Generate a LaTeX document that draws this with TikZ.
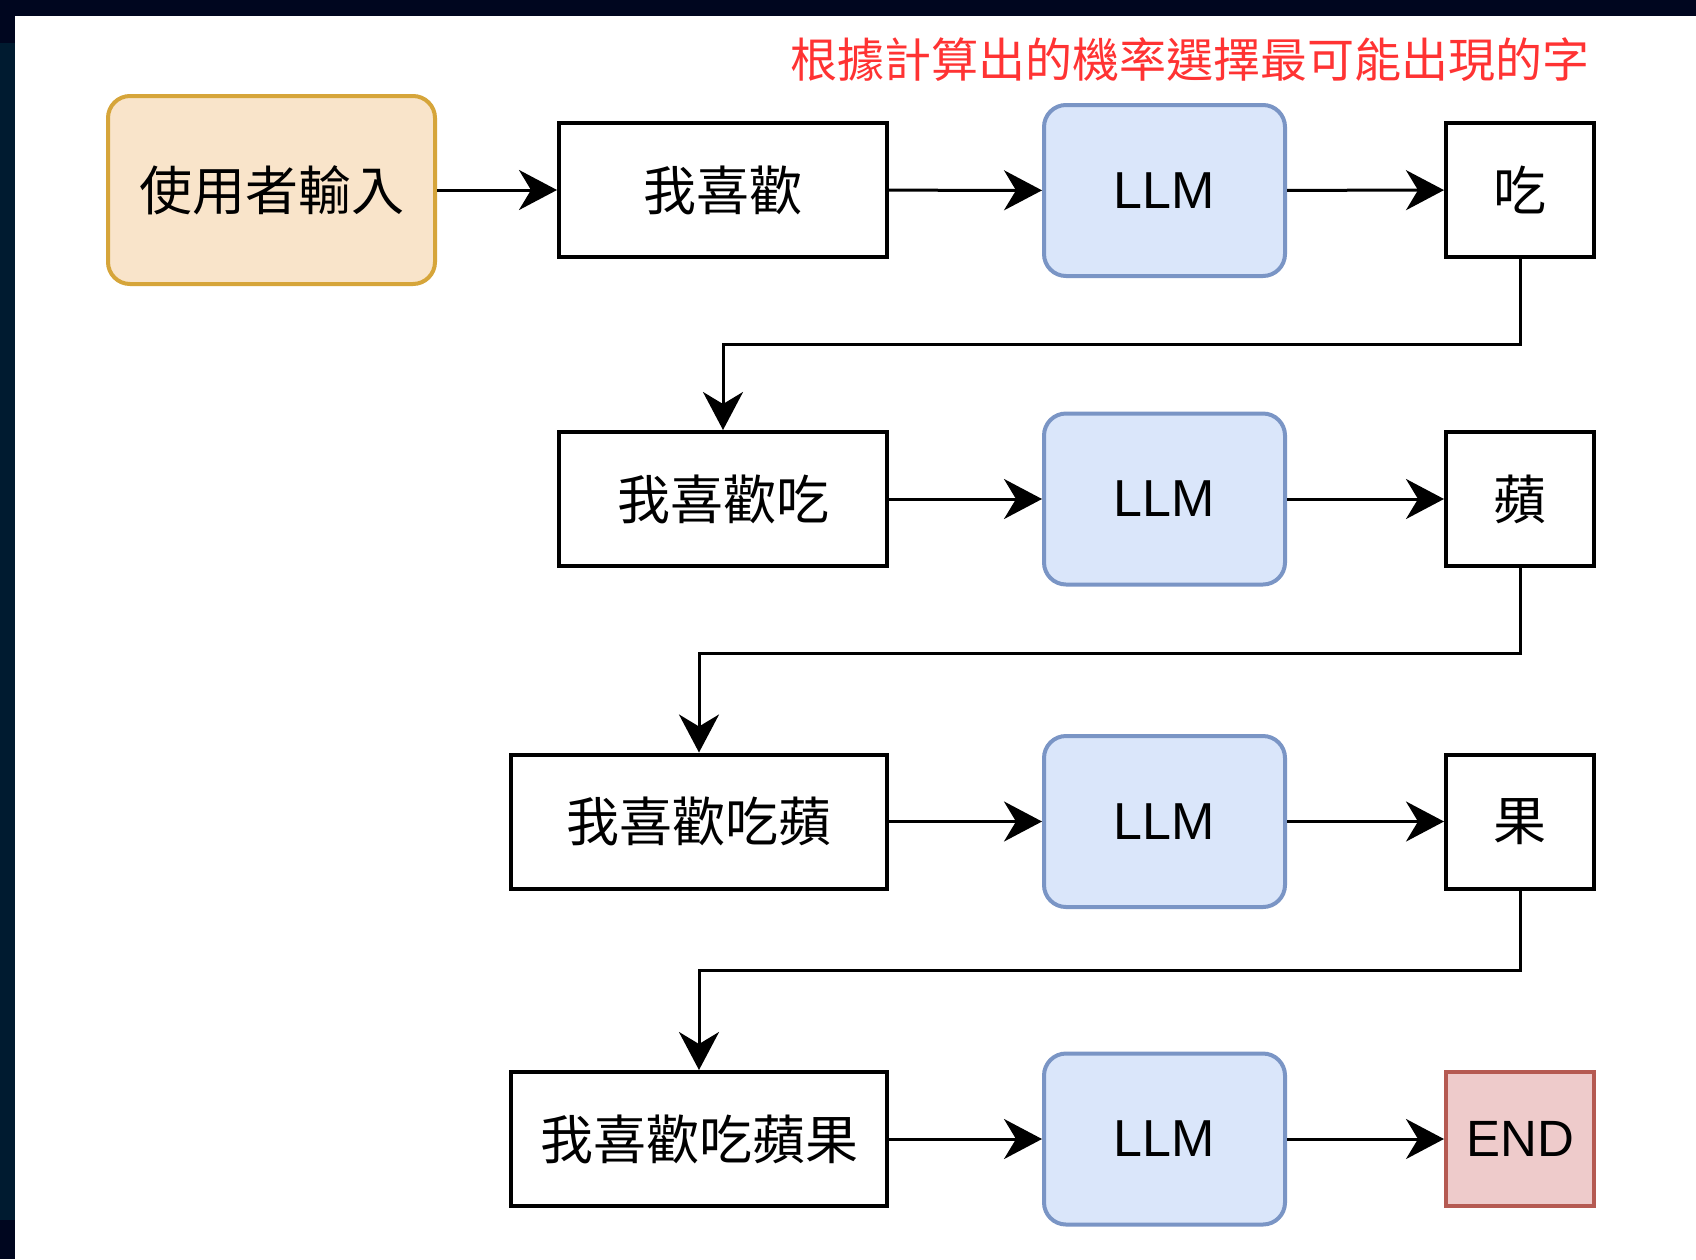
\documentclass[tikz,border=0pt]{standalone}
\usepackage{fontspec}
\setmainfont{Liberation Sans}
\newfontfamily\cjk{Noto Sans CJK TC}
\usepackage{tikz}
\usetikzlibrary{arrows.meta}
\usetikzlibrary{positioning}
\definecolor{inputfill}{HTML}{F9E4CA}
\definecolor{inputdraw}{HTML}{D6A53A}
\definecolor{llmfill}{HTML}{DAE6FA}
\definecolor{llmdraw}{HTML}{7A95C5}
\definecolor{endfill}{HTML}{EECBCB}
\definecolor{enddraw}{HTML}{B55A52}
\definecolor{titlered}{HTML}{FF3333}
\definecolor{screennavy}{HTML}{00061F}
\definecolor{screenblue}{HTML}{001B30}
\tikzset{
    wordbox/.style={
        draw,
        rectangle,
        line width=2pt,
        minimum width=164pt,
        minimum height=67pt,
        inner sep=0pt,
        font=\cjk\fontsize{26.5pt}{30pt}\selectfont
    },
    llmbox/.style={
        draw=llmdraw,
        fill=llmfill,
        rectangle,
        rounded corners=11pt,
        line width=2pt,
        minimum width=120.5pt,
        minimum height=85.5pt,
        inner sep=0pt,
        font=\fontsize{26pt}{30pt}\selectfont
    },
    flow/.style={
        draw,
        line width=1.5pt,
        -{Stealth[length=19pt, width=20pt, inset=6pt]}
    }
}

\begin{document}
\begin{tikzpicture}[x=0.5pt, y=-0.5pt]
    \useasboundingbox (0,0) rectangle (1696,1259);
    % Screen background
    \fill[white] (0,0) rectangle (1696,1259);
    \fill[screenblue] (0,16) rectangle (15,1259);
    \fill[screennavy] (0,0) rectangle (1696,16);
    \fill[screennavy] (0,16) rectangle (15,43);
    \fill[screennavy] (0,1220) rectangle (15,1259);

    % Title
    \node[text=titlered, font=\cjk\fontsize{23.5pt}{28pt}\selectfont] (title) at (1190,60)
        {根據計算出的機率選擇最可能出現的字};

    % Boxes - row 1
    \node[wordbox, draw=inputdraw, fill=inputfill, rounded corners=11pt,
          minimum width=163.5pt, minimum height=94pt] (input) at (271.5,190) {使用者輸入};
    \node[wordbox] (w1) at (723,190) {我喜歡};
    \node[llmbox] (llm1) at (1164.5,190.5) {LLM};
    \node[wordbox, minimum width=74pt] (o1) at (1520,190) {吃};

    % Boxes - row 2
    \node[wordbox] (w2) at (723,499) {我喜歡吃};
    \node[llmbox] (llm2) at (1164.5,499) {LLM};
    \node[wordbox, minimum width=74pt] (o2) at (1520,499) {蘋};

    % Boxes - row 3
    \node[wordbox, minimum width=188pt] (w3) at (699,821.5) {我喜歡吃蘋};
    \node[llmbox] (llm3) at (1164.5,821.5) {LLM};
    \node[wordbox, minimum width=74pt] (o3) at (1520,821.5) {果};

    % Boxes - row 4
    \node[wordbox, minimum width=188pt] (w4) at (699,1139) {我喜歡吃蘋果};
    \node[llmbox] (llm4) at (1164.5,1139) {LLM};
    \node[wordbox, draw=enddraw, fill=endfill, minimum width=74pt,
          font=\fontsize{25.5pt}{30pt}\selectfont] (o4) at (1520,1139) {END};

    % Arrows
    \draw[flow] (input) -- (w1);
    \draw[flow] (w1) -- (llm1);
    \draw[flow] (llm1) -- (o1);
    \draw[flow] (o1.south) -- ++(0,85) -| (w2.north);
    \draw[flow] (w2) -- (llm2);
    \draw[flow] (llm2) -- (o2);
    \draw[flow] (o2.south) -- ++(0,85) -| (w3.north);
    \draw[flow] (w3) -- (llm3);
    \draw[flow] (llm3) -- (o3);
    \draw[flow] (o3.south) -- ++(0,80) -| (w4.north);
    \draw[flow] (w4) -- (llm4);
    \draw[flow] (llm4) -- (o4);
\end{tikzpicture}
\end{document}
